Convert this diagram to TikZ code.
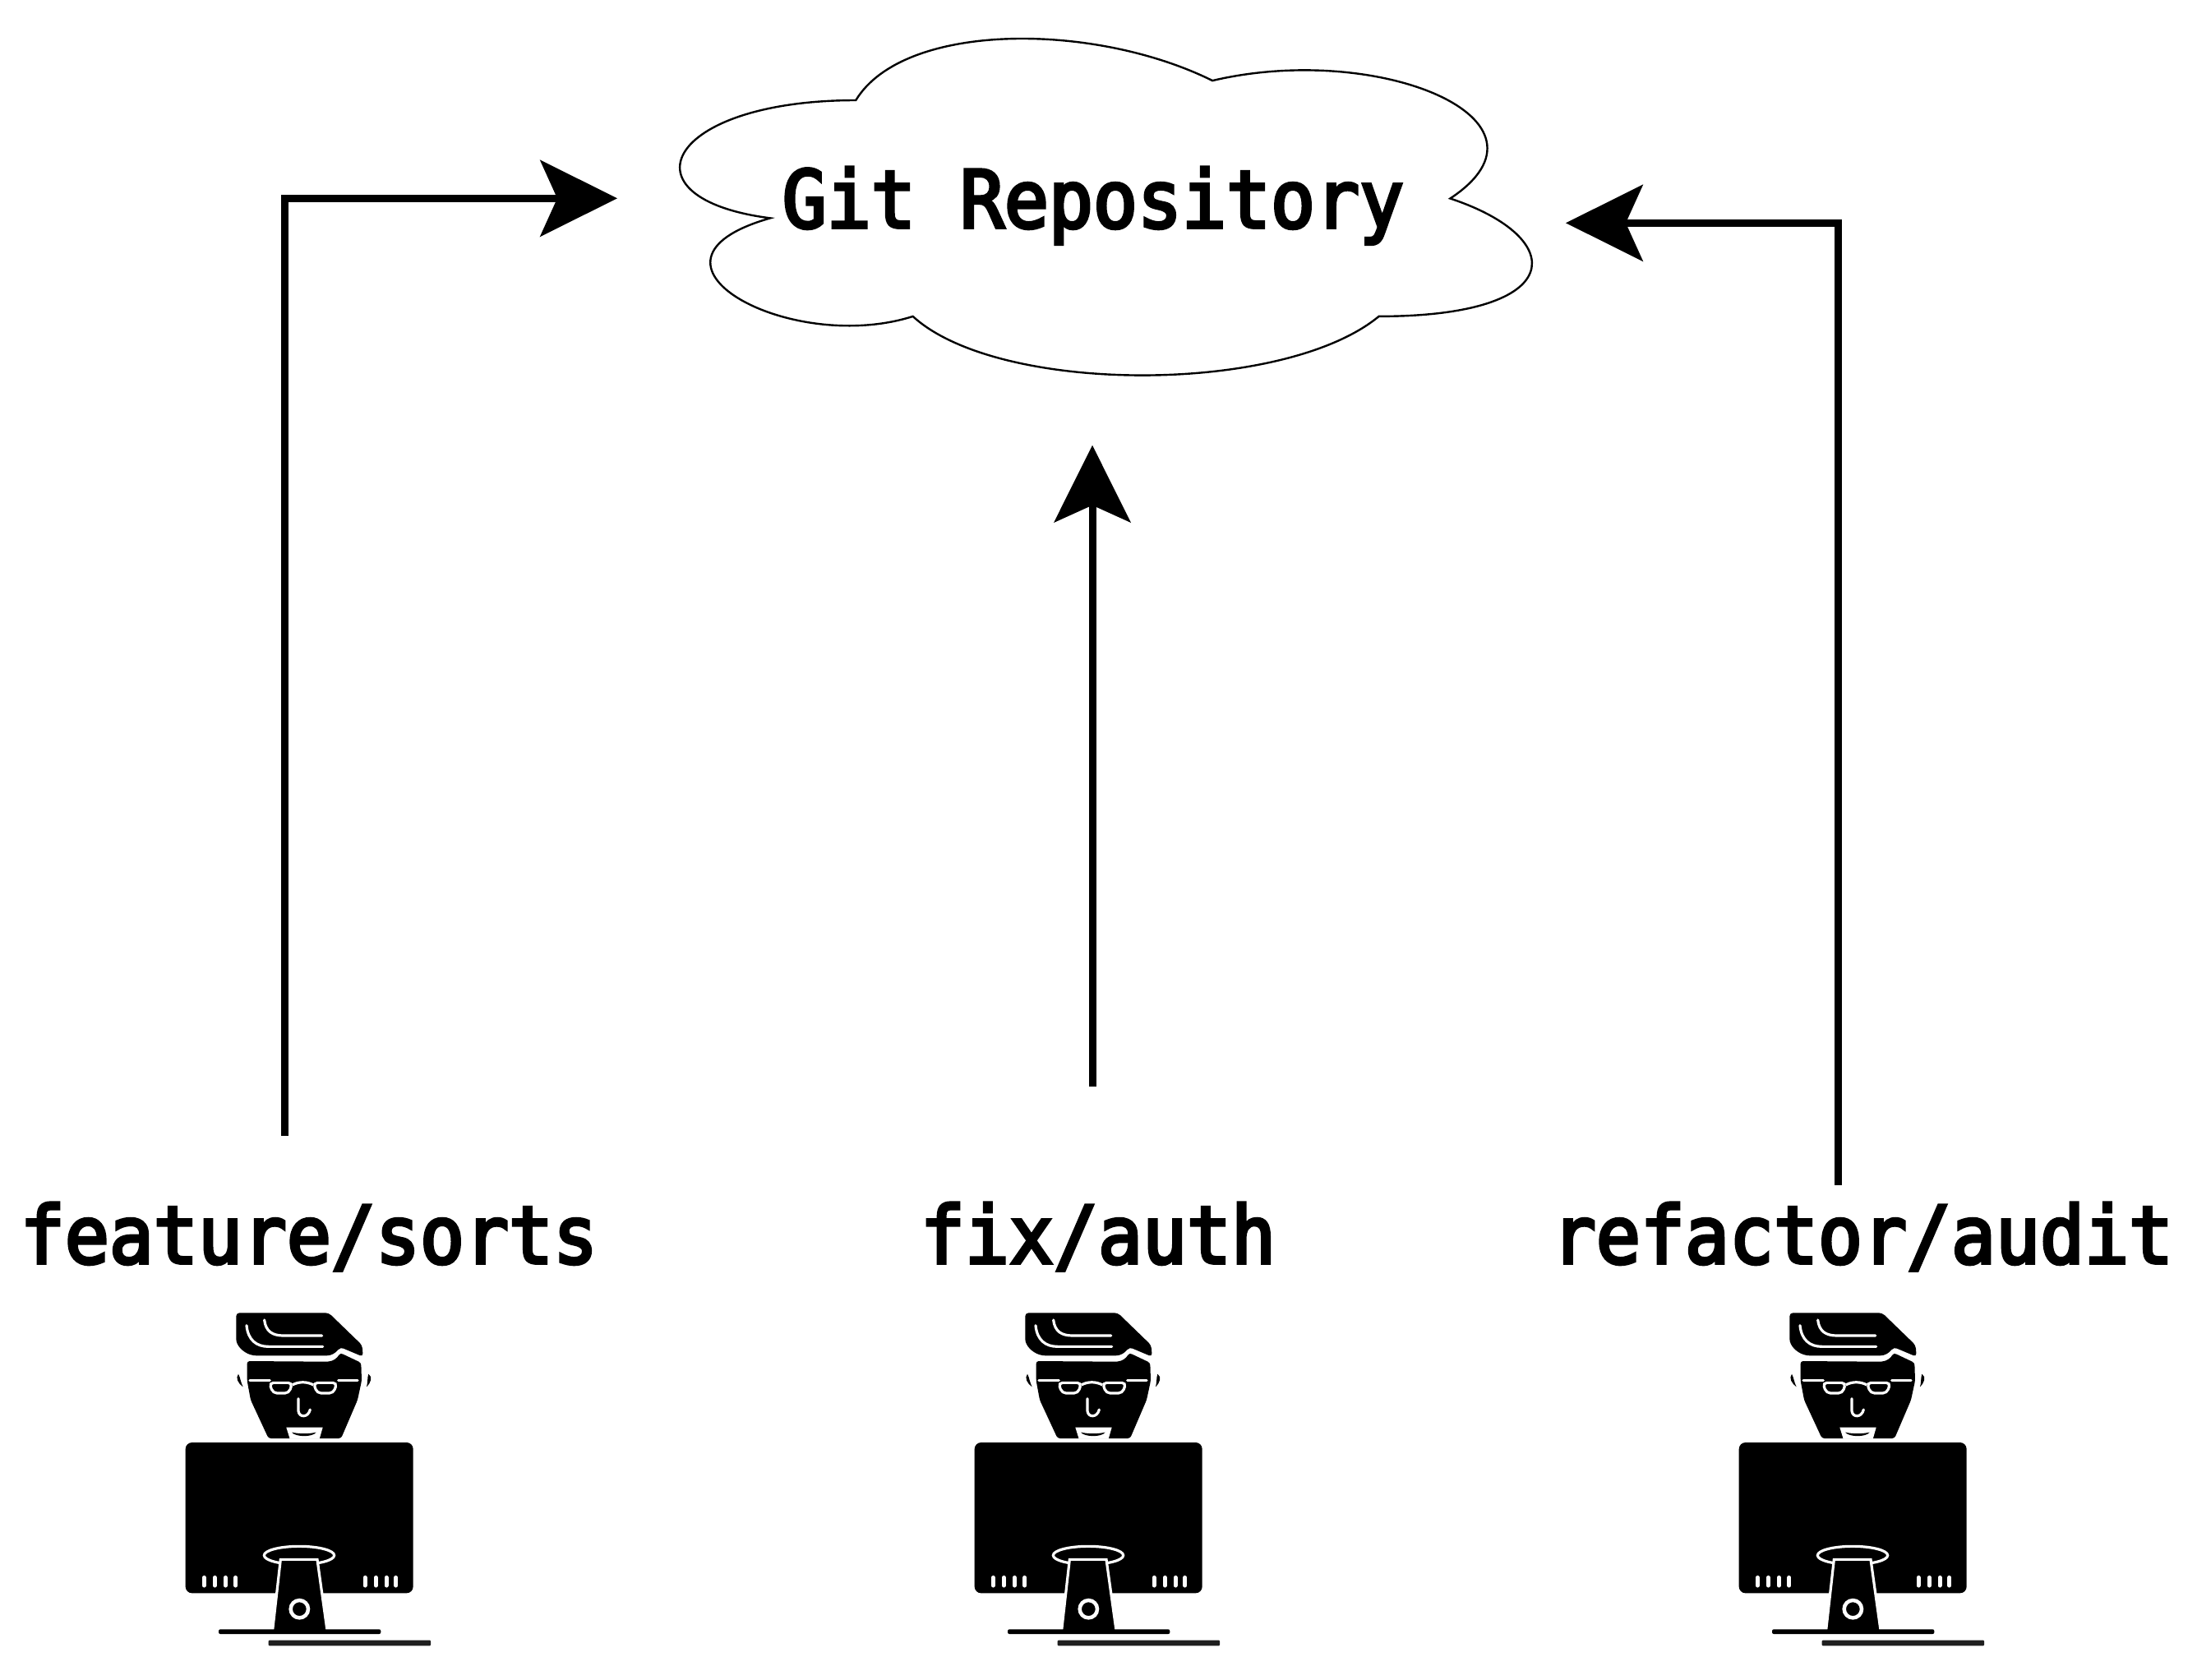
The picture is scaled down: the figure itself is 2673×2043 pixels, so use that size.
\documentclass[tikz,border=0pt]{standalone}
\usepackage{fontspec}
\usetikzlibrary{arrows.meta}
\newfontfamily\labfont[FakeStretch=.925,FakeBold=4]{DejaVu Sans Mono}
\tikzset{
  lab/.style={inner sep=0pt,anchor=base,font=\labfont\fontsize{97}{97}\selectfont},
  conn/.style={line width=9pt,-{Stealth[length=94.3pt,width=94pt,inset=21.3pt,line width=0pt]}},
  wl/.style={white,line width=3.2pt},
  vent/.style={white,line width=5pt,line cap=round},
  pics/dev/.style={code={
    \begin{scope}[x=.33333pt,y=-.33333pt]
      % hair
      \fill[black,rounded corners=4pt] (322,82) -- (660,82) -- (782,200) -- (785,242) -- (702,207)
        .. controls (685,228) and (670,238) .. (640,238) -- (385,238)
        .. controls (345,225) and (322,200) .. (322,165) -- cycle;
      \draw[wl,line cap=round] (425,108) .. controls (430,150) and (455,165) .. (495,165) -- (635,165);
      \draw[wl,line cap=round] (360,128) .. controls (365,180) and (395,205) .. (440,205) -- (638,205);
      % face
      \fill[black,rounded corners=3pt] (362,258) -- (650,260) .. controls (680,258) and (692,244) .. (702,228)
        -- (778,264) -- (780,330) -- (765,400) -- (705,540) -- (440,540) -- (375,400) -- (362,330) -- cycle;
      % glasses
      \draw[wl,line cap=round] (372,328) -- (445,328);
      \draw[wl,line cap=round] (695,328) -- (765,328);
      \draw[wl,rounded corners=5pt] (443,337) -- (527,337) -- (515,375) -- (456,375) -- cycle;
      \draw[wl,rounded corners=5pt] (604,337) -- (690,337) -- (677,375) -- (617,375) -- cycle;
      \draw[wl] (527,345) .. controls (550,332) and (580,332) .. (604,345);
      % nose
      \draw[wl,line cap=round] (549,395) -- (549,440) .. controls (552,465) and (585,465) .. (592,435);
      % mouth
      \fill[white] (505,500) -- (638,500) -- (626,542) -- (518,542) -- cycle;
      \fill[black] (525,518) .. controls (555,524) and (585,524) .. (614,518) .. controls (600,536) and (540,536) .. (525,518) -- cycle;
      % ears
      \fill[black] (330,305) .. controls (318,320) and (330,340) .. (347,352) .. controls (338,335) and (338,320) .. (330,305) -- cycle;
      \fill[black] (805,305) .. controls (822,315) and (812,340) .. (798,352) .. controls (803,335) and (800,320) .. (805,305) -- cycle;
      % monitor
      \fill[black,rounded corners=8pt] (137,555) rectangle (968,1105);
      \foreach \vx in {205,244,283,320,792,832,870,905} \draw[vent] (\vx,1048) -- (\vx,1077);
      % stand
      \draw[wl,fill=black] (552,967) ellipse [x radius=128,y radius=33];
      \fill[black] (484,982) -- (618,982) -- (654,1240) -- (455,1240) -- cycle;
      \draw[wl] (455,1240) -- (484,982) -- (618,982) -- (654,1240);
      \draw[white,line width=4.5pt] (553,1163) circle [radius=32];
      \fill[black,rounded corners=2pt] (258,1237) rectangle (850,1254);
      \fill[black!88,rounded corners=1pt] (440,1277) rectangle (1032,1297);
    \end{scope}
  }}
}
\begin{document}
\begin{tikzpicture}[x=1pt,y=-1pt]
  \useasboundingbox (0,0) rectangle (2673,2043);
  \fill[white] (0,0) rectangle (2673,2043);
  % cloud
  \begin{scope}[shift={(752,2.5)},x=1157pt,y=-478pt]
    \draw[line width=2.4pt,fill=white] (.25,.25)
      .. controls (.05,.25) and (0,.5) .. (.16,.55)
      .. controls (0,.66) and (.18,.9) .. (.31,.8)
      .. controls (.4,1) and (.7,1) .. (.8,.8)
      .. controls (1,.8) and (1,.6) .. (.875,.5)
      .. controls (1,.3) and (.8,.1) .. (.625,.2)
      .. controls (.5,.05) and (.3,.05) .. (.25,.25) -- cycle;
  \end{scope}
  \node[lab] (repo) at (1330,277) {Git Repository};
  \node[lab] (l1) at (376,1537) {feature/sorts};
  \node[lab] (l2) at (1336,1537) {fix/auth};
  \node[lab] (l3) at (2266,1537) {refactor/audit};
  \coordinate (s1) at (346.5,1381.7);
  \coordinate (t1) at (751,241.3);
  \coordinate (s2) at (1329,1321.7);
  \coordinate (t2) at (1329,541.7);
  \coordinate (s3) at (2236.5,1441.7);
  \coordinate (t3) at (1905,271.3);
  \draw[conn] (s1) |- (t1);
  \draw[conn] (s2) -- (t2);
  \draw[conn] (s3) |- (t3);
  \pic (d1) at (180,1570) {dev};
  \pic (d2) at (1140,1570) {dev};
  \pic (d3) at (2070,1570) {dev};
\end{tikzpicture}
\end{document}
